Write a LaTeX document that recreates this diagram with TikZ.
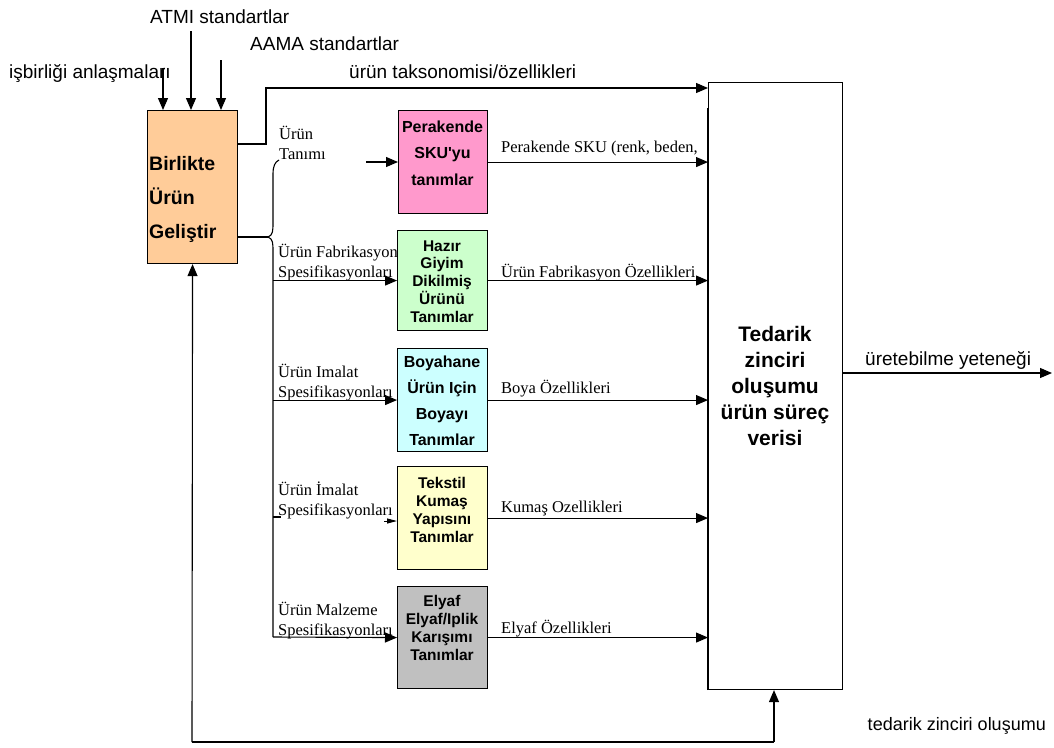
\documentclass[tikz,border=0pt]{standalone}
\usepackage{fontspec}
\setmainfont{Liberation Serif}
\newfontfamily\arialf{Liberation Sans}
\usetikzlibrary{arrows.meta}
\definecolor{peach}{HTML}{FFCC99}
\definecolor{pinkb}{HTML}{FF99CC}
\definecolor{greenb}{HTML}{CCFFCC}
\definecolor{cyanb}{HTML}{CCFFFF}
\definecolor{yellowb}{HTML}{FFFFCC}
\definecolor{grayb}{HTML}{C0C0C0}
\begin{document}
\begin{tikzpicture}[x=1pt,y=-1pt,
  box/.style={draw, line width=1.1pt, inner sep=0pt, anchor=north west},
  arr/.style={-{Triangle[length=12pt,width=10pt]}, line width=1.1pt},
  conn/.style={line width=1.1pt},
  btxt/.style n args={2}{font=\arialf\bfseries\fontsize{#1}{#2}\selectfont, anchor=base, align=center, inner sep=0pt},
  slbl/.style={font=\arialf\fontsize{19}{21}\selectfont, anchor=base west, inner sep=0pt},
  rlbl/.style={font=\fontsize{16.5}{19.5}\selectfont, anchor=base west, align=left, inner sep=0pt}]
\useasboundingbox (0,0) rectangle (1054,747);

% boxes (text nodes anchored at the baseline of their last line)
\node[box, fill=peach, minimum width=90pt, minimum height=153pt] (bir) at (147,110) {};
\node[btxt={19.5}{34}, anchor=base west, align=left] (birt) at (149,238) {Birlikte\\Ürün\\Geliştir};

\node[box, fill=pinkb, minimum width=89pt, minimum height=103pt] (per) at (398,110) {};
\node[btxt={16}{26.5}] (pert) at (442.5,185) {Perakende\\SKU'yu\\tanımlar};

\node[box, fill=greenb, minimum width=90pt, minimum height=100pt] (hzr) at (397,230) {};
\node[btxt={15.5}{17.7}] (hzrt) at (442,322) {Hazır\\Giyim\\Dikilmiş\\Ürünü\\Tanımlar};

\node[box, fill=cyanb, minimum width=90pt, minimum height=103pt] (boy) at (397,348) {};
\node[btxt={16}{25.7}] (boyt) at (442,445) {Boyahane\\Ürün Için\\Boyayı\\Tanımlar};

\node[box, fill=yellowb, minimum width=90pt, minimum height=103pt] (tek) at (397,466) {};
\node[btxt={15.5}{18}] (tekt) at (442,542) {Tekstil\\Kumaş\\Yapısını\\Tanımlar};

\node[box, fill=grayb, minimum width=90pt, minimum height=102pt] (ely) at (397,586) {};
\node[btxt={15.5}{17.7}] (elyt) at (442,660) {Elyaf\\Elyaf/Iplik\\Karışımı\\Tanımlar};

\node[box, minimum width=134pt, minimum height=607pt] (big) at (708,82) {};
\node[btxt={21}{26}] (bigt) at (775,445) {Tedarik\\zinciri\\oluşumu\\ürün süreç\\verisi};
\draw[line width=2.6pt] (big.south west) -- (big.south west |- 0,108);

% top inputs
\coordinate (in1) at (163,68);
\coordinate (in2) at (191,31);
\coordinate (in3) at (221,60);
\draw[arr] (in1) -- (in1 |- bir.north);
\draw[arr] (in2) -- (in2 |- bir.north);
\draw[arr] (in3) -- (in3 |- bir.north);
\node[slbl] (lbatmi) at (150,23) {ATMI standartlar};
\node[slbl] (lbaama) at (250,50) {AAMA standartlar};
\node[slbl] (lbisb) at (9,78) {işbirliği anlaşmaları};

% taxonomy arrow
\coordinate (tk1) at (266,144);
\coordinate (tk2) at (266,88);
\draw[arr] (bir.east |- tk1) -- (tk1) -- (tk2) -- (tk2 -| big.west);
\node[slbl] (lbtak) at (349,78) {ürün taksonomisi/özellikleri};

% brace and bus
\coordinate (br) at (268,237);
\coordinate (busend) at (273,637);
\draw[conn] (bir.east |- br) -- (br);
\draw[conn] (br) .. controls (273,235) and (273,231) .. (273,222) -- (273,174) .. controls (273,166) and (275,162) .. (279,160);
\draw[conn] (br) .. controls (273,239) and (273,243) .. (273,252) -- (busend);

% bus arrows into boxes
\coordinate (pin) at (366,162);
\draw[arr] (pin) -- (pin -| per.west);
\draw[arr] (hzr.west -| busend) -- (hzr.west);
\draw[arr] (boy.west -| busend) -- (boy.west);
\coordinate (tk0) at (273,517);
\coordinate (tks) at (281,517);
\coordinate (tka) at (384,521);
\draw[conn] (tk0) -- (tks);
\draw[-{Triangle[length=10pt,width=5pt]}, line width=1pt] (tka) -- (tka -| tek.west);
\draw[arr] (busend) -- (ely.west);

\node[rlbl] (l1) at (279,159) {Ürün\\Tanımı};
\node[rlbl] (l2) at (278,277) {Ürün Fabrikasyon\\Spesifikasyonları};
\node[rlbl] (l3) at (278,397) {Ürün Imalat\\Spesifikasyonları};
\node[rlbl] (l4) at (278,515) {Ürün İmalat\\Spesifikasyonları};
\node[rlbl] (l5) at (278,635) {Ürün Malzeme\\Spesifikasyonları};

% outputs to big box
\draw[arr] (per.east) -- (per.east -| big.west);
\draw[arr] (hzr.east) -- (hzr.east -| big.west);
\draw[arr] (boy.east) -- (boy.east -| big.west);
\draw[arr] (tek.east) -- (tek.east -| big.west);
\draw[arr] (ely.east) -- (ely.east -| big.west);
\node[rlbl] (o1) at (501,152) {Perakende SKU (renk, beden,};
\node[rlbl] (o2) at (501,277) {Ürün Fabrikasyon Özellikleri};
\node[rlbl] (o3) at (501,393) {Boya Özellikleri};
\node[rlbl] (o4) at (501,512) {Kumaş Ozellikleri};
\node[rlbl] (o5) at (501,633) {Elyaf Özellikleri};

% output
\coordinate (out) at (1052,373);
\draw[arr] (out -| big.east) -- (out);
\node[slbl] (lbure) at (865,365) {üretebilme yeteneği};

% feedback
\coordinate (fb1) at (192,742);
\coordinate (fb2) at (774,742);
\draw[conn] (fb1) -- (fb2);
\draw[arr] (fb2) -- (fb2 |- big.south);
\draw[arr] (fb1) -- (bir.south);
\node[slbl, font=\arialf\fontsize{18}{20}\selectfont, anchor=base east] (lbted) at (1046,730) {tedarik zinciri oluşumu};
\end{tikzpicture}
\end{document}
